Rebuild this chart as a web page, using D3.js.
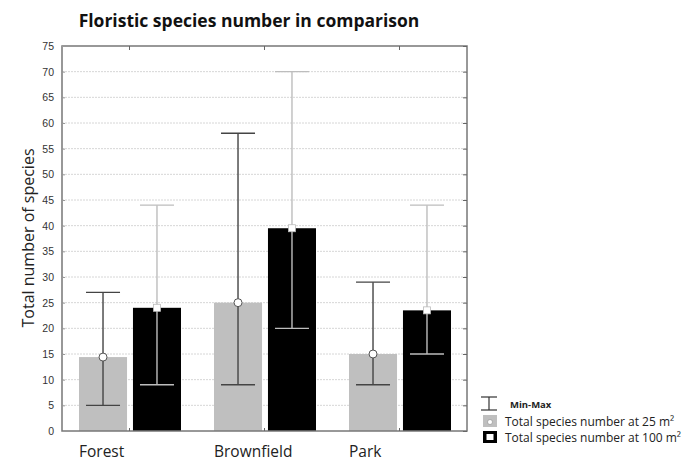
<!DOCTYPE html>
<html>
<head>
<meta charset="utf-8">
<script src="https://cdn.jsdelivr.net/npm/d3@7"></script>
<style>
  body { margin: 0; background: #fff; }
  svg { display: block; }
</style>
</head>
<body>
<div id="chart"></div>
<script>
let w = 694;
let h = 463;

// data
let habitats = ["Forest", "Brownfield", "Park"];
let seriesKeys = ["s25", "s100"];
let mean25 = [14.4, 25, 15];
let min25 = [5, 9, 9];
let max25 = [27, 58, 29];
let mean100 = [24, 39.5, 23.5];
let min100 = [9, 20, 15];
let max100 = [44, 70, 44];
let yTicks = [0, 5, 10, 15, 20, 25, 30, 35, 40, 45, 50, 55, 60, 65, 70, 75];

let rows = [];
habitats.forEach(function(hb, i){
  rows.push({habitat: hb, key: "s25", mean: mean25[i], min: min25[i], max: max25[i]});
  rows.push({habitat: hb, key: "s100", mean: mean100[i], min: min100[i], max: max100[i]});
});

let viz = d3.select("#chart")
  .append("svg")
    .attr("width", w)
    .attr("height", h);

let plotL = 62, plotR = 467, plotT = 46, plotB = 431;

let y = d3.scaleLinear().domain([0, 75]).range([plotB, plotT]);
let x0 = d3.scaleBand().domain(habitats).range([plotL, plotR]);
let x1 = d3.scaleBand().domain(seriesKeys)
  .range([17, x0.bandwidth() - 16])
  .paddingInner(0.11);

///////////////////////////////////////////////////////////////////////
// grid
viz.append("g")
  .selectAll("line")
  .data(yTicks.filter(function(d){ return d > 0 && d < 75; }))
  .enter()
  .append("line")
    .attr("x1", plotL)
    .attr("x2", plotR)
    .attr("y1", function(d){ return y(d); })
    .attr("y2", function(d){ return y(d); })
    .attr("stroke", "#d6d6d6")
    .attr("stroke-width", 1)
    .attr("stroke-dasharray", "2,1");

///////////////////////////////////////////////////////////////////////
// bars
function barX(d){ return x0(d.habitat) + x1(d.key); }
function barColor(d){ return d.key == "s25" ? "#bfbfbf" : "#000000"; }
function whiskerColor(d){ return d.key == "s25" ? "#444444" : "#bdbdbd"; }

viz.append("g")
  .selectAll("rect")
  .data(rows)
  .enter()
  .append("rect")
    .attr("x", barX)
    .attr("y", function(d){ return y(d.mean); })
    .attr("width", x1.bandwidth())
    .attr("height", function(d){ return y(0) - y(d.mean); })
    .attr("fill", barColor);

///////////////////////////////////////////////////////////////////////
// min-max whiskers
let err = viz.append("g")
  .selectAll("g")
  .data(rows)
  .enter()
  .append("g")
    .attr("transform", function(d){ return "translate(" + (barX(d) + x1.bandwidth() / 2) + ",0)"; });

err.append("line")
  .attr("x1", 0).attr("x2", 0)
  .attr("y1", function(d){ return y(d.min); })
  .attr("y2", function(d){ return y(d.max); })
  .attr("stroke", whiskerColor)
  .attr("stroke-width", 1.4);

err.append("line")
  .attr("x1", -17).attr("x2", 17)
  .attr("y1", function(d){ return y(d.min); })
  .attr("y2", function(d){ return y(d.min); })
  .attr("stroke", whiskerColor)
  .attr("stroke-width", 1.4);

err.append("line")
  .attr("x1", -17).attr("x2", 17)
  .attr("y1", function(d){ return y(d.max); })
  .attr("y2", function(d){ return y(d.max); })
  .attr("stroke", whiskerColor)
  .attr("stroke-width", 1.4);

// mean markers
err.filter(function(d){ return d.key == "s25"; })
  .append("circle")
    .attr("cx", 0)
    .attr("cy", function(d){ return y(d.mean); })
    .attr("r", 4)
    .attr("fill", "#fff")
    .attr("stroke", "#555")
    .attr("stroke-width", 1);

err.filter(function(d){ return d.key == "s100"; })
  .append("rect")
    .attr("x", -3.5)
    .attr("y", function(d){ return y(d.mean) - 3.5; })
    .attr("width", 7)
    .attr("height", 7)
    .attr("fill", "#fff")
    .attr("stroke", "#bbb")
    .attr("stroke-width", 0.8);

///////////////////////////////////////////////////////////////////////
// frame and axes
viz.append("rect")
  .attr("x", plotL)
  .attr("y", plotT)
  .attr("width", plotR - plotL)
  .attr("height", plotB - plotT)
  .attr("fill", "none")
  .attr("stroke", "#777")
  .attr("stroke-width", 1.5);

let yAxis = viz.append("g")
  .attr("transform", "translate(" + plotL + ",0)")
  .call(d3.axisLeft(y).tickValues(yTicks).tickSize(-3).tickPadding(8));
yAxis.select(".domain").remove();
yAxis.selectAll(".tick line").attr("stroke", "#999");
yAxis.selectAll("text")
  .attr("font-family", "Liberation Sans, Arial, sans-serif")
  .attr("font-size", 10.5)
  .attr("fill", "#333");

let yRight = viz.append("g")
  .attr("transform", "translate(" + plotR + ",0)")
  .call(d3.axisRight(y).tickValues(yTicks).tickSize(-4).tickFormat(""));
yRight.select(".domain").remove();
yRight.selectAll(".tick line").attr("stroke", "#666");

let xTop = viz.append("g")
  .attr("transform", "translate(0," + plotT + ")")
  .call(d3.axisTop(x0).tickSize(-4).tickFormat(""));
xTop.select(".domain").remove();
xTop.selectAll(".tick line").attr("stroke", "#666");

let xBottom = viz.append("g")
  .attr("transform", "translate(0," + plotB + ")")
  .call(d3.axisBottom(x0).tickSize(-3).tickFormat(""));
xBottom.select(".domain").remove();
xBottom.selectAll(".tick line").attr("stroke", "#666");

// category labels, left aligned with the first bar of each group
viz.append("g")
  .selectAll("text")
  .data(habitats)
  .enter()
  .append("text")
    .attr("x", function(d){ return x0(d) + x1("s25"); })
    .attr("y", 457)
    .attr("font-family", "Open Sans, sans-serif")
    .attr("font-size", 15.5)
    .attr("fill", "#222")
    .text(function(d){ return d; });

///////////////////////////////////////////////////////////////////////
// titles
viz.append("text")
  .attr("x", 249)
  .attr("y", 27)
  .attr("text-anchor", "middle")
  .attr("font-family", "Open Sans, sans-serif")
  .attr("font-weight", "bold")
  .attr("font-size", 17.5)
  .attr("fill", "#111")
  .text("Floristic species number in comparison");

viz.append("text")
  .attr("transform", "translate(34,238) rotate(-90)")
  .attr("text-anchor", "middle")
  .attr("font-family", "Open Sans, sans-serif")
  .attr("font-size", 16)
  .attr("fill", "#222")
  .text("Total number of species");

///////////////////////////////////////////////////////////////////////
// legend
let lg = viz.append("g");

lg.append("line").attr("x1", 489).attr("x2", 489).attr("y1", 397).attr("y2", 410).attr("stroke", "#333").attr("stroke-width", 1.2);
lg.append("line").attr("x1", 481).attr("x2", 497).attr("y1", 397).attr("y2", 397).attr("stroke", "#333").attr("stroke-width", 1.2);
lg.append("line").attr("x1", 481).attr("x2", 497).attr("y1", 410).attr("y2", 410).attr("stroke", "#333").attr("stroke-width", 1.2);
lg.append("text")
  .attr("x", 510).attr("y", 408)
  .attr("font-family", "Open Sans, sans-serif")
  .attr("font-weight", "bold")
  .attr("font-size", 9.5)
  .attr("fill", "#222")
  .text("Min-Max");

lg.append("rect").attr("x", 483).attr("y", 415).attr("width", 14).attr("height", 12).attr("fill", "#bfbfbf");
lg.append("circle").attr("cx", 490).attr("cy", 422).attr("r", 2.5).attr("fill", "#fff").attr("stroke", "#888").attr("stroke-width", 0.6);
lg.append("text")
  .attr("x", 505).attr("y", 426)
  .attr("font-family", "Open Sans, sans-serif")
  .attr("font-size", 12)
  .attr("fill", "#222")
  .text("Total species number at 25 m²");

lg.append("rect").attr("x", 483).attr("y", 431).attr("width", 14).attr("height", 12).attr("fill", "#000");
lg.append("rect").attr("x", 486.5).attr("y", 434).attr("width", 7).attr("height", 6).attr("fill", "#fff");
lg.append("text")
  .attr("x", 505).attr("y", 442)
  .attr("font-family", "Open Sans, sans-serif")
  .attr("font-size", 12)
  .attr("fill", "#222")
  .text("Total species number at 100 m²");
</script>
</body>
</html>
